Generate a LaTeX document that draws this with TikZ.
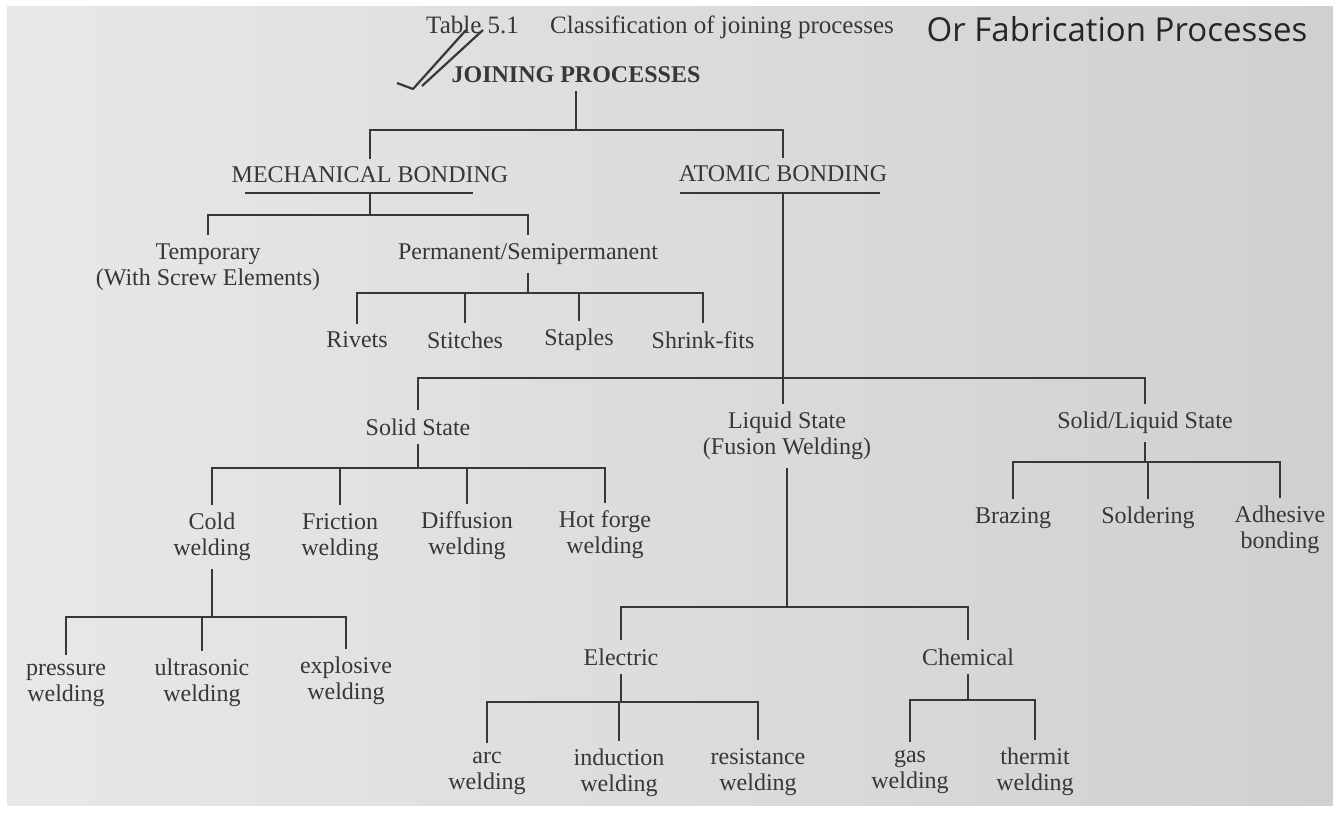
\documentclass[tikz,border=0pt]{standalone}
\usepackage{fontspec}
\setmainfont{Liberation Serif}
\newfontfamily\fabfont{Open Sans}
\definecolor{ink}{RGB}{55,55,55}
\definecolor{pageL}{RGB}{232,232,232}
\definecolor{pageR}{RGB}{208,208,208}

\begin{document}
\begin{tikzpicture}[x=0.5pt, y=-0.5pt,
    lbl/.style = {text=ink, font=\fontsize{12}{13}\selectfont, align=center, inner sep=4pt},
    head/.style = {lbl, font=\fontsize{12}{13}\selectfont\bfseries},
    branch/.style = {draw=ink, line width=1.2pt}]

    \useasboundingbox (0,0) rectangle (1333,813);
    \fill[white] (0,0) rectangle (1333,813);
    \shade[left color=pageL, right color=pageR] (7,7) rectangle (1333,805);

    \node[lbl, font=\fontsize{12.5}{13}\selectfont] (title) at (660,27) {Table 5.1\quad\ Classification of joining processes};
    \node[text=black!85, font=\fabfont\fontsize{16.5}{18}\selectfont] (fab) at (1117,29) {Or Fabrication Processes};

    \draw[ink, line width=1.1pt, line join=round] (397,83) -- (413,89) -- (466,30);
    \draw[ink, line width=1.1pt] (422,86) -- (483,30);

    \node[head] (jp) at (576,75) {JOINING PROCESSES};

    \node[lbl] (mb) at (370,175) {MECHANICAL BONDING};
    \node[lbl] (ab) at (783,174) {ATOMIC BONDING};

    \node[lbl] (temp) at (208,267) {Temporary\\(With Screw Elements)};
    \node[lbl] (perm) at (528,254) {Permanent/Semipermanent};

    \node[lbl] (rivets) at (357,340) {Rivets};
    \node[lbl] (stitches) at (465,340) {Stitches};
    \node[lbl] (staples) at (579,340) {Staples};
    \node[lbl] (shrink) at (703,340) {Shrink-fits};

    \node[lbl] (solid) at (418,427) {Solid State};
    \node[lbl] (liquid) at (787,436) {Liquid State\\(Fusion Welding)};
    \node[lbl] (sl) at (1145,423) {Solid/Liquid State};

    \node[lbl] (cold) at (212,537) {Cold\\welding};
    \node[lbl] (friction) at (340,537) {Friction\\welding};
    \node[lbl] (diffusion) at (467,536) {Diffusion\\welding};
    \node[lbl] (hotforge) at (605,535) {Hot forge\\welding};

    \node[lbl] (pressure) at (66,685) {pressure\\welding};
    \node[lbl] (ultra) at (202,683) {ultrasonic\\welding};
    \node[lbl] (explosive) at (346,681) {explosive\\welding};

    \node[lbl] (electric) at (621,657) {Electric};
    \node[lbl] (chemical) at (968,657) {Chemical};

    \node[lbl] (arc) at (487,773) {arc\\welding};
    \node[lbl] (induction) at (619,773) {induction\\welding};
    \node[lbl] (resistance) at (758,772) {resistance\\welding};

    \node[lbl] (gas) at (910,772) {gas\\welding};
    \node[lbl] (thermit) at (1035,772) {thermit\\welding};

    \node[lbl] (brazing) at (1013,518) {Brazing};
    \node[lbl] (soldering) at (1148,518) {Soldering};
    \node[lbl] (adhesive) at (1280,530) {Adhesive\\bonding};

    \draw[branch] (245,193) -- (473,193);
    \draw[branch] (680,193) -- (880,193);

    \coordinate (jpbus) at (576,130);
    \coordinate (mbu) at (370,193);
    \coordinate (mbbus) at (370,215);
    \coordinate (pmbus) at (528,293);
    \coordinate (abu) at (783,193);
    \coordinate (abbus) at (783,378);
    \coordinate (ssbus) at (418,468);
    \coordinate (cwbus) at (212,617);
    \coordinate (lqbus) at (787,607);
    \coordinate (elbus) at (621,702);
    \coordinate (chbus) at (968,700);
    \coordinate (slbus) at (1145,462);

    \draw[branch] (jp.south) -- (jpbus) -| (mb.north);
    \draw[branch] (jpbus) -| (ab.north);

    \draw[branch] (mbu) -- (mbbus) -| (temp.north);
    \draw[branch] (mbbus) -| (perm.north);

    \draw[branch] (perm.south) -- (pmbus) -| (rivets.north);
    \draw[branch] (pmbus) -| (stitches.north);
    \draw[branch] (pmbus) -| (staples.north);
    \draw[branch] (pmbus) -| (shrink.north);

    \draw[branch] (abu) -- (abbus) -| (solid.north);
    \draw[branch] (abbus) -- (abbus |- liquid.north);
    \draw[branch] (abbus) -| (sl.north);

    \draw[branch] (solid.south) -- (ssbus) -| (cold.north);
    \draw[branch] (ssbus) -| (friction.north);
    \draw[branch] (ssbus) -| (diffusion.north);
    \draw[branch] (ssbus) -| (hotforge.north);

    \draw[branch] (cold.south) -- (cwbus) -| (pressure.north);
    \draw[branch] (cwbus) -| (ultra.north);
    \draw[branch] (cwbus) -| (explosive.north);

    \draw[branch] (liquid.south) -- (lqbus) -| (electric.north);
    \draw[branch] (lqbus) -| (chemical.north);

    \draw[branch] (electric.south) -- (elbus) -| (arc.north);
    \draw[branch] (elbus) -| (induction.north);
    \draw[branch] (elbus) -| (resistance.north);

    \draw[branch] (chemical.south) -- (chbus) -| (gas.north);
    \draw[branch] (chbus) -| (thermit.north);

    \draw[branch] (sl.south) -- (slbus) -| (brazing.north);
    \draw[branch] (slbus) -| (soldering.north);
    \draw[branch] (slbus) -| (adhesive.north);
\end{tikzpicture}
\end{document}
